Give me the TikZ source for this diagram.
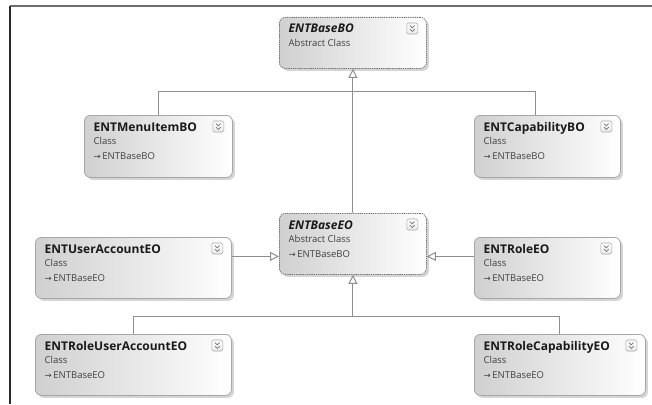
\documentclass[tikz,border=0pt]{standalone}
\usepackage{fontspec}
\setmainfont{Open Sans}
\newfontfamily\symfont{DejaVu Sans}
\usetikzlibrary{arrows.meta,shadows,calc}

\definecolor{linegray}{HTML}{8E8E8E}
\definecolor{framegray}{HTML}{6E6E6E}
\definecolor{frameleft}{HTML}{2A2A2A}
\definecolor{boxedge}{HTML}{A6A6A6}
\definecolor{boxdark}{HTML}{D0D0D0}
\definecolor{textdark}{HTML}{1A1A1A}
\definecolor{textsub}{HTML}{404040}

\tikzset{
  classbox/.style={rectangle, rounded corners=6pt, draw=boxedge, line width=0.8pt,
    left color=boxdark, right color=white,
    drop shadow={shadow xshift=2.5pt, shadow yshift=-2.5pt, fill=black!30, opacity=0.55},
    anchor=north west, inner sep=0pt},
  abstractbox/.style={classbox, draw=black!55, dash pattern=on 1.3pt off 0.9pt},
  titletext/.style={anchor=base west, inner sep=0pt,
    font=\fontsize{12}{12}\selectfont\bfseries, text=textdark},
  abstracttitle/.style={titletext, font=\fontsize{12}{12}\selectfont\bfseries\itshape},
  subtext/.style={anchor=base west, inner sep=0pt,
    font=\fontsize{9.5}{9.5}\selectfont, text=textsub},
  togglebox/.style={rectangle, rounded corners=1.5pt, minimum size=11pt, inner sep=0pt,
    draw=black!35, line width=0.6pt, top color=white, bottom color=black!8},
  chevron/.style={draw=black!55, line width=0.7pt},
  link/.style={draw=linegray, line width=1pt},
  inherit/.style={link, -{Triangle[open, length=9pt, width=9pt, line width=1pt]}},
}

% #1 name, #2 box style, #3 title style, #4 x, #5 y, #6 width, #7 height, #8 title, #9 kind
\newcommand\classnode[9]{%
  \node[#2, minimum width=#6pt, minimum height=#7pt] (#1) at (#4,#5) {};
  \node[#3] (#1-title) at ($(#1.north west)+(9.5,16)$) {#8};
  \node[subtext] (#1-kind) at ($(#1.north west)+(9.5,29.5)$) {#9};
  \node[togglebox] (#1-toggle) at ($(#1.north east)+(-14.5,11.5)$) {};
  \draw[chevron] ($(#1-toggle.center)+(-2.4,-3)$) -- ($(#1-toggle.center)+(0,-0.6)$) -- ($(#1-toggle.center)+(2.4,-3)$);
  \draw[chevron] ($(#1-toggle.center)+(-2.4,0.6)$) -- ($(#1-toggle.center)+(0,3)$) -- ($(#1-toggle.center)+(2.4,0.6)$);
}
% base-class line under the kind line
\newcommand\parentline[2]{%
  \node[subtext] (#1-parent) at ($(#1.north west)+(9.5,44)$) {{\symfont\fontsize{8.5}{8.5}\selectfont →}\,#2};
}

\begin{document}
\begin{tikzpicture}[x=1pt, y=-1pt]
  \useasboundingbox (0,0) rectangle (652,404);

  % window frame edges
  \draw[framegray, line width=2pt] (10,6.5) -- (652,6.5);
  \draw[frameleft, line width=1.5pt] (10,6.5) -- (10,404);

  % classes
  \classnode{bbo}{abstractbox}{abstracttitle}{279}{17}{147}{51}{ENTBaseBO}{Abstract Class}
  \classnode{menu}{classbox}{titletext}{84}{115}{148}{62}{ENTMenuItemBO}{Class}
  \parentline{menu}{ENTBaseBO}
  \classnode{cap}{classbox}{titletext}{474}{115}{146}{62}{ENTCapabilityBO}{Class}
  \parentline{cap}{ENTBaseBO}
  \classnode{beo}{abstractbox}{abstracttitle}{279}{213}{147}{61}{ENTBaseEO}{Abstract Class}
  \parentline{beo}{ENTBaseBO}
  \classnode{ua}{classbox}{titletext}{35}{237}{196}{61}{ENTUserAccountEO}{Class}
  \parentline{ua}{ENTBaseEO}
  \classnode{role}{classbox}{titletext}{474}{237}{146}{61}{ENTRoleEO}{Class}
  \parentline{role}{ENTBaseEO}
  \classnode{rua}{classbox}{titletext}{35}{334}{196}{61}{ENTRoleUserAccountEO}{Class}
  \parentline{rua}{ENTBaseEO}
  \classnode{rce}{classbox}{titletext}{474}{334}{171}{61}{ENTRoleCapabilityEO}{Class}
  \parentline{rce}{ENTBaseEO}

  % junctions and ports
  \coordinate (topjoin) at ([yshift=-23pt]bbo.south);
  \coordinate (botjoin) at ([yshift=-42pt]beo.south);
  \coordinate (uaport) at ([yshift=11.5pt]ua.east);
  \coordinate (roleport) at ([yshift=11.5pt]role.west);

  % inheritance from ENTBaseBO
  \draw[inherit] (beo.north) -- (bbo.south);
  \draw[link] (menu.north) |- (topjoin) -| ([xshift=-12pt]cap.north);

  % inheritance from ENTBaseEO
  \draw[inherit] (uaport) -- (uaport -| beo.west);
  \draw[inherit] (roleport) -- (roleport -| beo.east);
  \draw[link] (rua.north) |- (botjoin) -| (rce.north);
  \draw[inherit] (botjoin) -- (beo.south);
\end{tikzpicture}
\end{document}
